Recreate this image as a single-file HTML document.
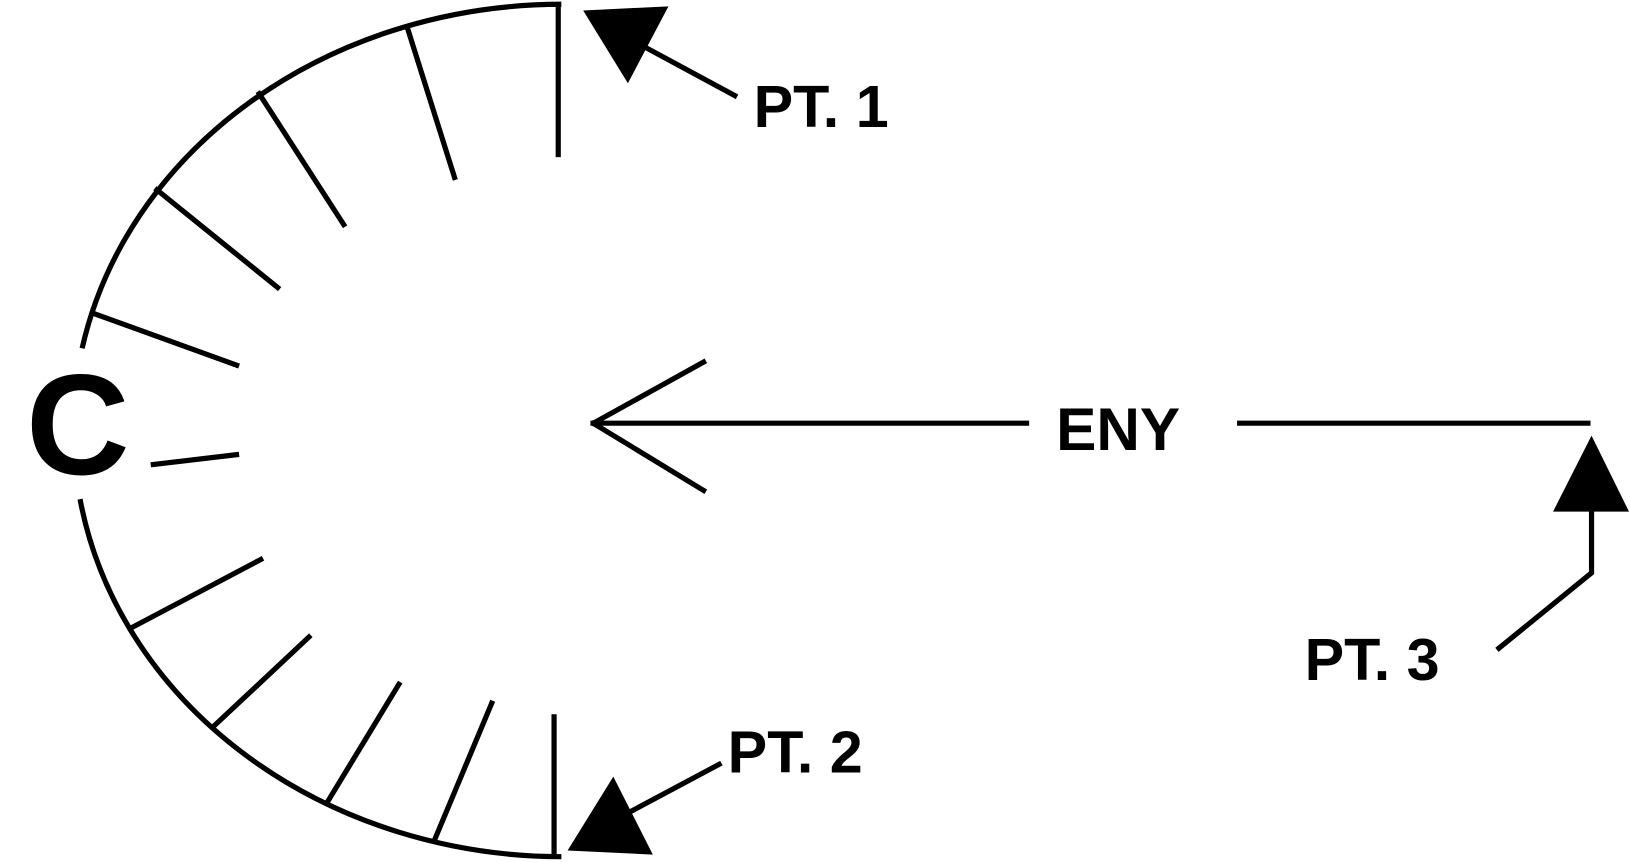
<!DOCTYPE html>
<html><head><meta charset="utf-8"><style>
html,body{margin:0;padding:0;background:#fff;width:1630px;height:862px;overflow:hidden}
svg{display:block}
text{font-family:"Liberation Sans",Arial,sans-serif;font-weight:bold;fill:#000}
</style></head><body>
<svg width="1630" height="862" viewBox="0 0 1568 829" id="svg">
<g stroke="#000" stroke-width="5" fill="none">
<path d="M540,4 A470,410 0 0 0 79,335"/>
<path d="M77,480 A470,410 0 0 0 540,824"/>
<line x1="568" y1="407" x2="990" y2="407"/>
<line x1="1190" y1="407" x2="1530" y2="407"/>
<line x1="569" y1="408" x2="679" y2="347"/>
<line x1="569" y1="406" x2="679" y2="473"/>
<line x1="709" y1="93" x2="620" y2="45"/>
<line x1="694" y1="734" x2="604" y2="782"/>
<polyline points="1440,625 1531,551 1531,488"/>
</g>
<g id="ticks" stroke="#000" stroke-width="5"></g>
<g fill="#000">
<polygon points="561,10 643,6 604,80"/>
<polygon points="590,747 546,818 628,822"/>
<polygon points="1531,419 1494,492 1567,492"/>
</g>
<text x="25" y="456" font-size="138">C</text>
<text x="725" y="122" font-size="57">PT. 1</text>
<text x="1016" y="433" font-size="58">ENY</text>
<text x="700" y="743" font-size="57">PT. 2</text>
<text x="1255" y="654" font-size="57">PT. 3</text>
</svg>
<script>
const tickStartX=[537,392,248,149,89,145,126,204,314,418,533];
const tickStartY=[5,27,88,181,301,447,604,700,773,808,826];
const tickEndX=[537,438,332,269,230,230,253,299,385,474,533];
const tickEndY=[151,173,218,278,352,437,537,611,656,674,687];
const g=document.getElementById('ticks');
for(let i=0;i<tickStartX.length;i++){
  const l=document.createElementNS('http://www.w3.org/2000/svg','line');
  l.setAttribute('x1',tickStartX[i]);l.setAttribute('y1',tickStartY[i]);
  l.setAttribute('x2',tickEndX[i]);l.setAttribute('y2',tickEndY[i]);
  
  
  g.appendChild(l);
}
</script>
</body></html>
